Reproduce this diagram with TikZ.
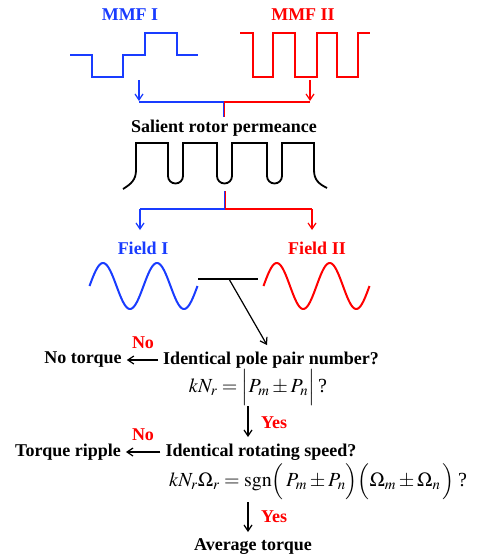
\documentclass[tikz,border=0pt]{standalone}
\usepackage{mathptmx}
\usepackage{fontspec}
\setmainfont{Liberation Serif}
\usetikzlibrary{arrows.meta}
\definecolor{myblue}{RGB}{25,60,255}
\definecolor{myred}{RGB}{255,0,0}
\newcommand{\sbig}[1]{\smash{#1}}
\begin{document}
\begin{tikzpicture}[x=1pt,y=-1pt,
  lbl/.style={font=\fontsize{18}{21}\selectfont\bfseries, inner sep=0pt},
  eqn/.style={font=\fontsize{20}{24}\selectfont, inner sep=0pt},
  wave/.style={line width=2pt, line join=miter},
  conn/.style={line width=1.2pt},
  arr/.style={line width=1.2pt, -{Straight Barb[length=6pt,width=8pt,line width=1.2pt]}}]
\useasboundingbox (0,0) rectangle (485,560);
% labels
\node[lbl, text=myblue] (mmf1) at (130,15) {MMF I};
\node[lbl, text=myred] (mmf2) at (303,15) {MMF II};
\node[lbl] (perm) at (224,128) {Salient rotor permeance};
\node[lbl, text=myblue] (f1) at (143,248) {Field I};
\node[lbl, text=myred] (f2) at (317,248) {Field II};
% MMF I waveform
\draw[wave, myblue] (70,55) -- (92,55) -- (92,77) -- (123,77) -- (123,55) -- (145,55) -- (145,33) -- (177,33) -- (177,55) -- (198,55);
% MMF II waveform
\draw[wave, myred] (240,33) -- (253,33) -- (253,77) -- (273,77) -- (273,33) -- (295,33) -- (295,77) -- (317,77) -- (317,33) -- (337,33) -- (337,77) -- (358,77) -- (358,33) -- (370,33);
% top connectors
\coordinate (a1s) at (139,80);
\coordinate (a1e) at (139,101);
\coordinate (a2s) at (310,80);
\coordinate (a2e) at (310,101);
\coordinate (j1) at (224,102);
\coordinate (j1b) at (224,117);
\draw[arr, myblue] (a1s) -- (a1e);
\draw[arr, myred] (a2s) -- (a2e);
\draw[conn, myblue] (139,102) -- ([xshift=-0.6pt]j1) -- ([xshift=-0.6pt]j1b);
\draw[conn, myred] (310,102) -- ([xshift=0.6pt]j1) -- ([xshift=0.6pt]j1b);
% permeance waveform
\draw[wave, line width=1.8pt, black] (123,189) .. controls (131,184) and (136,180) .. (136,170) -- (136,143) -- (168,143) -- (168,176) arc[start angle=180, end angle=0, radius=7.5] -- (183,143) -- (217,143) -- (217,176) arc[start angle=180, end angle=0, radius=7.5] -- (232,143) -- (267,143) -- (267,176) arc[start angle=180, end angle=0, radius=7.5] -- (282,143) -- (314,143) -- (314,170) .. controls (314,180) and (319,184) .. (327,188);
% middle connectors
\coordinate (j2t) at (225,191);
\coordinate (j2) at (225,209);
\coordinate (b1s) at (140,209);
\coordinate (b1e) at (140,230);
\coordinate (b2s) at (312,209);
\coordinate (b2e) at (312,230);
\draw[conn, myblue] ([xshift=-0.6pt]j2t) -- ([xshift=-0.6pt]j2) -- (b1s);
\draw[conn, myred] ([xshift=0.6pt]j2t) -- ([xshift=0.6pt]j2) -- (b2s);
\draw[arr, myblue] (b1s) -- (b1e);
\draw[arr, myred] (b2s) -- (b2e);
% sine waves
\draw[wave, myblue, line join=round] plot[domain=0:720, samples=120, smooth] ({89.5+(\x/360)*54},{286-23*sin(\x)});
\draw[wave, myred, line join=round] plot[domain=0:720, samples=120, smooth] ({263.5+(\x/360)*53},{286-23*sin(\x)});
% black combiner
\coordinate (h1) at (198,279);
\coordinate (h2) at (258,279);
\coordinate (hd) at (229,279);
\coordinate (hdt) at (267,345);
\draw[conn, line width=1.5pt] (h1) -- (h2);
\draw[arr] (hd) -- (hdt);
% question 1
\node[lbl] (q1) at (271,360) {Identical pole pair number?};
\node[lbl] (nt) at (83,360) {No torque};
\node[lbl, text=myred] (no1) at (143,343) {No};
\draw[arr] ([xshift=-5pt]q1.west) -- ([xshift=5pt]nt.east);
\node[eqn] (e1) at (258,387) {$kN_r=\sbig{\Bigl|}P_m\pm P_n\sbig{\Bigr|}$\,?};
\coordinate (v1s) at (248,406);
\coordinate (v1e) at (248,437);
\draw[arr] (v1s) -- (v1e);
\node[lbl, text=myred] (yes1) at (274,423) {Yes};
% question 2
\node[lbl] (q2) at (261,452) {Identical rotating speed?};
\node[lbl] (tr) at (68,452) {Torque ripple};
\node[lbl, text=myred] (no2) at (143,435) {No};
\draw[arr] ([xshift=-5pt]q2.west) -- ([xshift=5pt]tr.east);
\node[eqn] (e2) at (318,482) {$kN_r\Omega_r=\mathrm{sgn}\sbig{\Bigl(}\,P_m\pm P_n\sbig{\Bigr)}\sbig{\Bigl(}\Omega_m\pm\Omega_n\,\sbig{\Bigr)}$\,?};
\coordinate (v2s) at (248,502);
\coordinate (v2e) at (248,532);
\draw[arr] (v2s) -- (v2e);
\node[lbl, text=myred] (yes2) at (274,517) {Yes};
\node[lbl] (avg) at (253,547) {Average torque};
\end{tikzpicture}
\end{document}
